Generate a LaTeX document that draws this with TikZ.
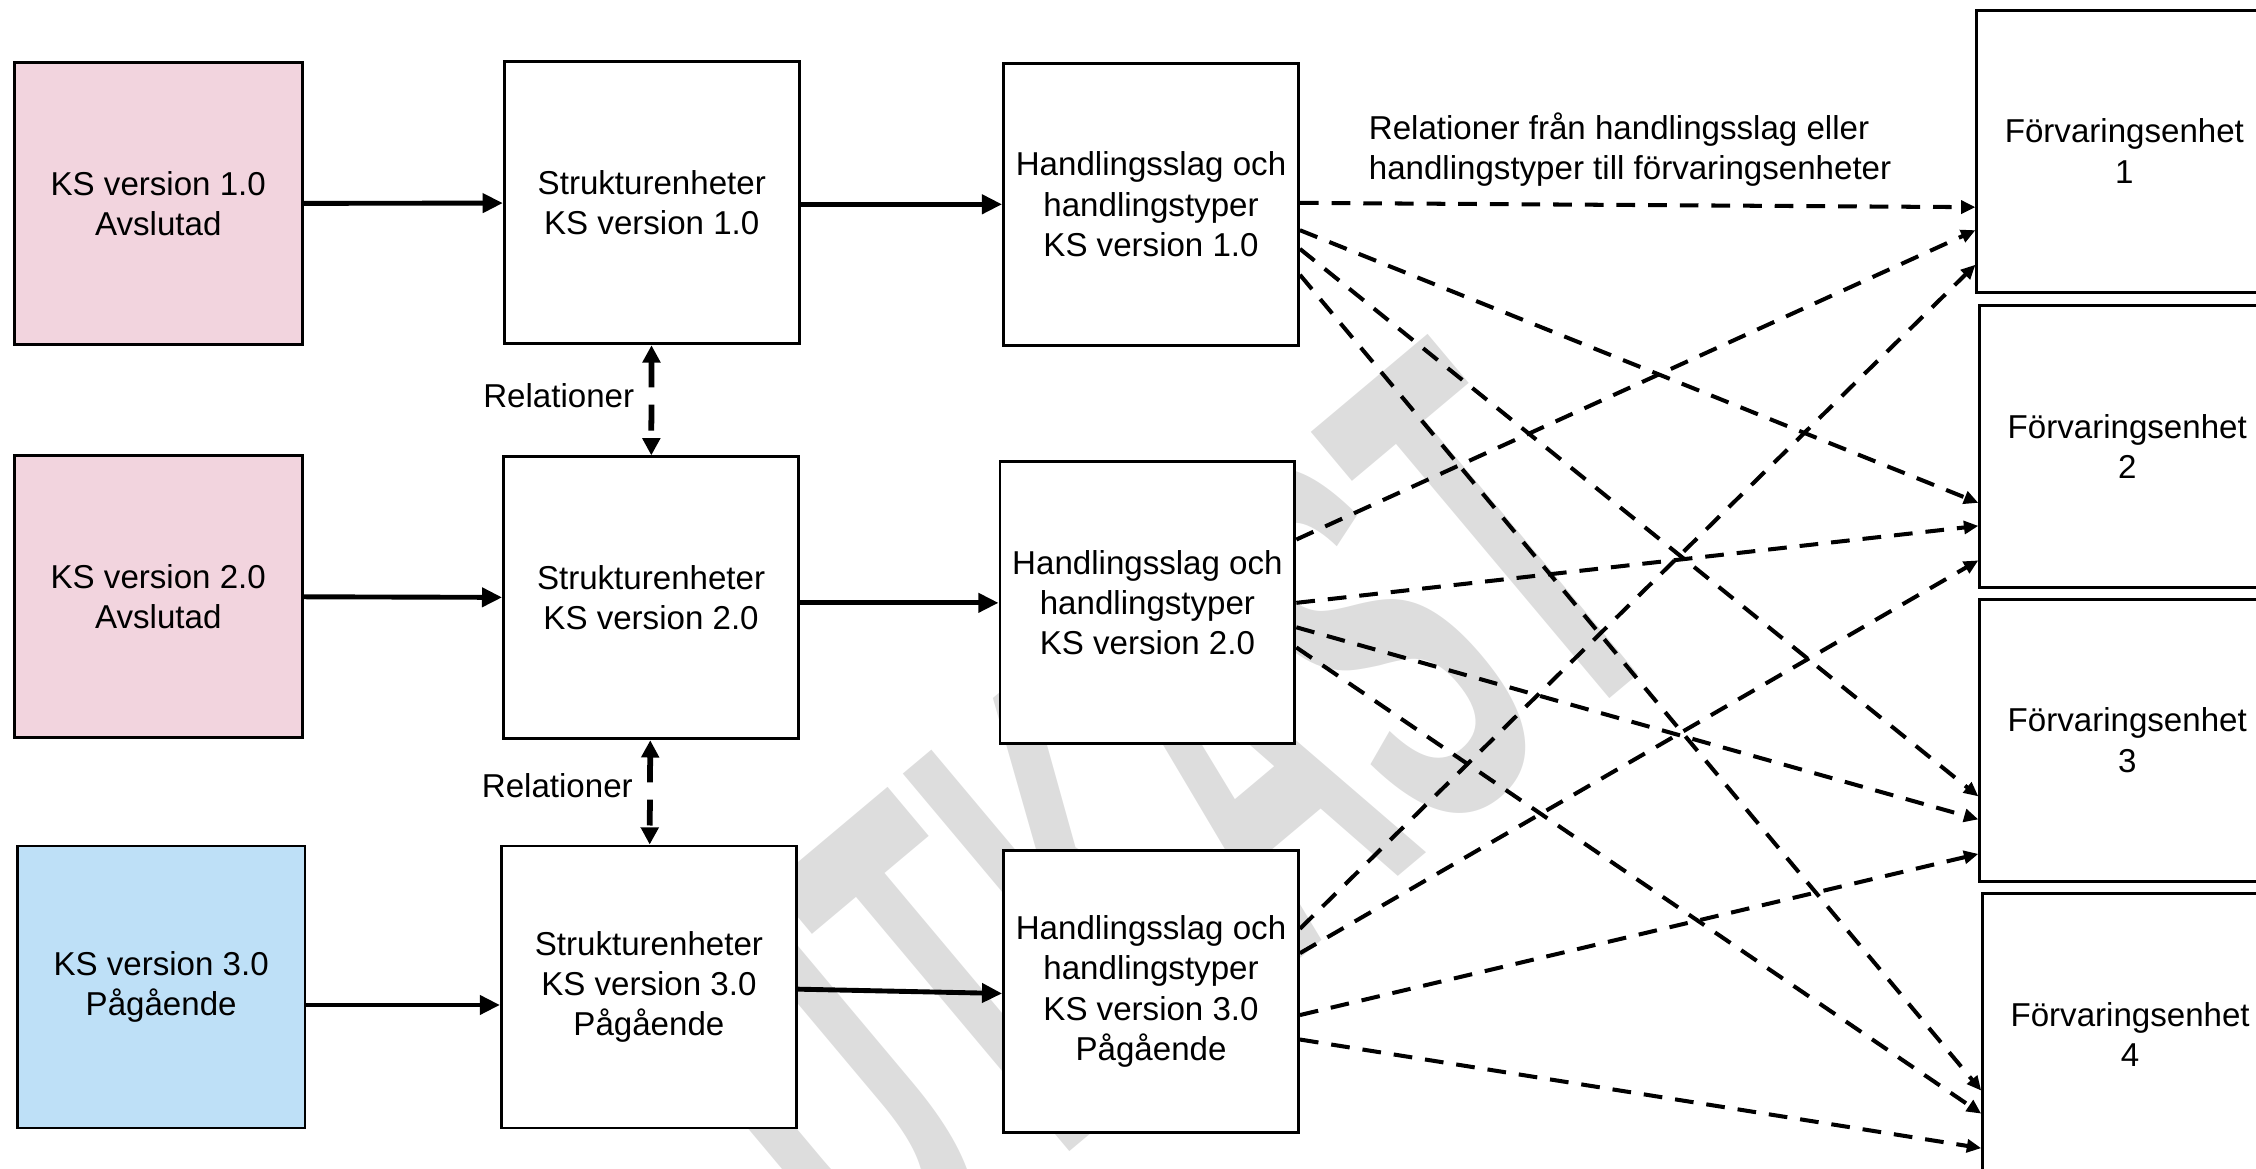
\documentclass[tikz,border=0pt]{standalone}
\usepackage{fontspec}
\setmainfont{Liberation Sans}
\usetikzlibrary{arrows.meta,calc}
\definecolor{avslutad}{RGB}{242,212,222}
\definecolor{pagaende}{RGB}{190,224,247}
\definecolor{vattenmark}{RGB}{221,221,221}

\begin{document}
\begin{tikzpicture}[x=0.5pt,y=-0.5pt,
	box/.style={draw,line width=1pt,fill=white,minimum width=102.5pt,minimum height=98pt,align=center,font=\fontsize{11.5}{14}\selectfont},
	ksbox/.style={box,minimum width=100pt},
	pil/.style={line width=1.7pt,-{Triangle[length=7pt,width=6.5pt]}},
	relpil/.style={line width=2pt,dash pattern=on 9pt off 6pt,{Triangle[length=6pt,width=6pt]}-{Triangle[length=6pt,width=6pt]}},
	streckpil/.style={line width=1.4pt,dash pattern=on 6.5pt off 4.5pt,-{Triangle[length=5pt,width=4.5pt]}},
	txt/.style={font=\fontsize{11.5}{14}\selectfont,inner sep=0pt}]
	\useasboundingbox (0,0) rectangle (1568,812);
	% vattenmärke
	\node[text=vattenmark,font=\fontsize{200}{200}\selectfont\bfseries,rotate=40,xscale=0.45,inner sep=0pt] (utkast) at (803,571) {UTKAST};
	% klassificeringsstrukturer
	\node[ksbox,fill=avslutad] (ks1) at (110,141.5) {KS version 1.0\\Avslutad};
	\node[ksbox,fill=avslutad] (ks2) at (110,414.5) {KS version 2.0\\Avslutad};
	\node[ksbox,fill=pagaende] (ks3) at (112,686) {KS version 3.0\\Pågående};
	\node[box] (str1) at (453,141) {Strukturenheter\\KS version 1.0};
	\node[box] (str2) at (452.5,415.5) {Strukturenheter\\KS version 2.0};
	\node[box] (str3) at (451,686) {Strukturenheter\\KS version 3.0\\Pågående};
	\node[box] (h1) at (800,142) {Handlingsslag och\\handlingstyper\\KS version 1.0};
	\node[box] (h2) at (797.5,419) {Handlingsslag och\\handlingstyper\\KS version 2.0};
	\node[box] (h3) at (800,689) {Handlingsslag och\\handlingstyper\\KS version 3.0\\Pågående};
	% förvaringsenheter
	\node[box] (f1) at (1476.5,105) {Förvaringsenhet\\1};
	\node[box] (f2) at (1478.5,310.5) {Förvaringsenhet\\2};
	\node[box] (f3) at (1478.5,514.5) {Förvaringsenhet\\3};
	\node[box] (f4) at (1480.5,719) {Förvaringsenhet\\4};
	\node[txt,align=left,anchor=west] (rellbl) at (951,104) {Relationer från handlingsslag eller\\handlingstyper till förvaringsenheter};
	% pilar
	\draw[pil] (ks1) -- (str1);
	\draw[pil] (str1.east |- h1) -- (h1);
	\draw[pil] (ks2) -- (str2);
	\draw[pil] (str2.east |- h2) -- (h2);
	\draw[pil] ($(ks3.east)+(0,12.5)$) -- ($(str3.west)+(0,12.5)$);
	\draw[pil] ($(str3.east)+(0,1.5)$) -- ($(h3.west)+(0,1.5)$);
	\draw[relpil] (str1) -- (str2) node[txt,midway,left,xshift=-5pt,yshift=1.5pt] (rel1) {Relationer};
	\draw[relpil] (str2) -- (str3) node[txt,midway,left,xshift=-5pt,yshift=2.5pt] (rel2) {Relationer};
	\foreach \src/\ds/\dst/\dd in {h1/-1/f1/39, h1/18/f2/39, h1/31/f3/39, h1/49/f4/39,
		h2/-44/f1/55, h2/0/f2/55, h2/17/f3/55, h2/31/f4/55,
		h3/-43.5/f1/79, h3/-26.5/f2/79, h3/16.5/f3/79, h3/33.5/f4/79}
		\draw[streckpil] ($(\src.east)+(0,\ds)$) -- ($(\dst.west)+(0,\dd)$);
\end{tikzpicture}
\end{document}
